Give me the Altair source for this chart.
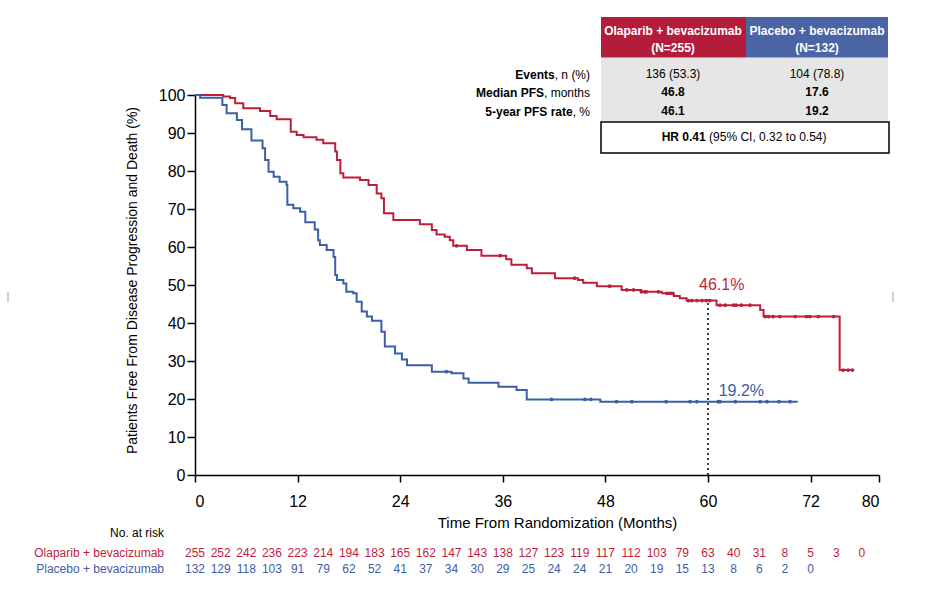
import altair as alt
import pandas as pd

FONT = "Liberation Sans"
RED = "#BF1E3B"
BLUE = "#3D5EA8"
HDR_RED = "#B41C3C"
HDR_BLUE = "#4B64A4"
GRAY = "#E6E6E6"

arms = ["Olaparib + bevacizumab", "Placebo + bevacizumab"]

# Kaplan-Meier step points (months, % free from progression/death)
ola_t = [0, 3.3, 4.1, 4.7, 5.65, 7.6, 8.8, 9.55, 11.2, 11.9, 12.7, 14.2, 15.0, 16.4, 16.6,
         17.0, 17.35, 19.3, 20.3, 21.25, 21.8, 22.1, 23.2, 26.3, 27.7, 28.25, 29.2, 29.8,
         30.2, 31.8, 33.5, 36.4, 37.0, 38.8, 39.4, 42.1, 44.8, 45.4, 47.0, 49.9, 52.2,
         54.6, 56.0, 56.7, 57.5, 61.0, 66.1, 66.5, 75.4, 76.9]
ola_s = [100, 99.6, 99.2, 97.8, 96.5, 95.8, 94.5, 93.6, 90.3, 89.5, 88.9, 88.2, 87.3, 85.1,
         82.9, 79.4, 78.3, 77.6, 76.3, 74.1, 72.8, 68.9, 67.1, 66.0, 64.5, 63.3, 62.7, 61.8,
         60.3, 59.2, 57.7, 56.8, 55.3, 54.4, 53.1, 51.8, 51.3, 50.6, 49.7, 48.7, 48.2,
         47.8, 47.1, 46.5, 45.9, 44.7, 43.4, 41.7, 27.6, 27.6]
pbo_t = [0, 0.6, 3.2, 3.7, 4.9, 5.5, 6.6, 7.9, 8.2, 8.6, 9.2, 9.9, 10.7, 10.8, 11.5, 12.3,
         12.9, 14.0, 14.4, 14.6, 15.4, 16.2, 16.4, 16.6, 17.35, 17.7, 18.5, 18.9, 19.5, 20.1,
         20.7, 21.8, 22.2, 23.4, 24.2, 24.8, 27.7, 30.0, 31.4, 32.0, 35.5, 37.6, 38.8, 47.4,
         70.5]
pbo_s = [100, 99.3, 97.4, 95.2, 93.4, 91.0, 88.0, 86.0, 82.9, 79.8, 78.5, 77.2, 76.3, 71.1,
         70.2, 69.3, 66.5, 64.6, 61.8, 60.5, 59.2, 57.4, 52.6, 51.3, 50.4, 48.2, 47.8, 45.6,
         43.0, 41.7, 40.6, 37.7, 33.8, 32.0, 30.4, 28.9, 27.2, 26.8, 25.4, 24.3, 23.2, 22.4,
         19.9, 19.3, 19.3]

# censoring times
ola_cens = [30.6, 35.7, 44.4, 48.5, 50.5, 51.3, 52.2, 52.6, 52.8, 54.2, 55.2, 55.5, 55.8,
            57.7, 58.1, 58.7, 59.3, 59.8, 60.2, 61.4, 62.0, 63.0, 63.3, 63.9, 64.9, 66.7,
            67.1, 67.6, 68.4, 70.2, 71.5, 71.9, 72.9, 74.7, 75.8, 76.4, 76.9]
pbo_cens = [29.4, 41.7, 45.6, 46.3, 49.3, 51.1, 55.1, 57.9, 58.7, 61.2, 61.4, 63.2, 66.1,
            66.9, 68.3, 69.6]

# numbers at risk (every 3 months)
ola_risk = [255, 252, 242, 236, 223, 214, 194, 183, 165, 162, 147, 143, 138, 127, 123, 119,
            117, 112, 103, 79, 63, 40, 31, 8, 5, 3, 0]
pbo_risk = [132, 129, 118, 103, 91, 79, 62, 52, 41, 37, 34, 30, 29, 25, 24, 24, 21, 20, 19,
            15, 13, 8, 6, 2, 0]

x_ticks = [0, 12, 24, 36, 48, 60, 72, 80]
y_ticks = [0, 10, 20, 30, 40, 50, 60, 70, 80, 90, 100]

landmark_month = 60
landmark_vals = [46.1, 19.2]
landmark_labels = ["46.1%", "19.2%"]
label_pos_t = [61.6, 63.9]
label_pos_s = [49.9, 22.2]

table_cols = ["Olaparib + bevacizumab", "Placebo + bevacizumab"]
table_n = ["(N=255)", "(N=132)"]
events = ["136 (53.3)", "104 (78.8)"]
median_pfs = ["46.8", "17.6"]
rate5 = ["46.1", "19.2"]

# ---------------- data frames ----------------
curve_df = pd.concat([
    pd.DataFrame({"t": ola_t, "s": ola_s, "arm": arms[0]}),
    pd.DataFrame({"t": pbo_t, "s": pbo_s, "arm": arms[1]}),
])


def step_val(ts, ss, t):
    v = ss[0]
    for ti, si in zip(ts, ss):
        if ti <= t:
            v = si
    return v


cens_df = pd.concat([
    pd.DataFrame({"t": ola_cens, "s": [step_val(ola_t, ola_s, c) for c in ola_cens], "arm": arms[0]}),
    pd.DataFrame({"t": pbo_cens, "s": [step_val(pbo_t, pbo_s, c) for c in pbo_cens], "arm": arms[1]}),
])

risk_ola_df = pd.DataFrame({"month": [3 * i for i in range(len(ola_risk))], "n": ola_risk})
risk_pbo_df = pd.DataFrame({"month": [3 * i for i in range(len(pbo_risk))], "n": pbo_risk})

xs = alt.Scale(domain=[0, 80], nice=False, zero=False)
ys = alt.Scale(domain=[0, 100], nice=False)
cs = alt.Scale(domain=arms, range=[RED, BLUE])

XAXIS = alt.Axis(
    values=x_ticks, title="Time From Randomization (Months)", labelFontSize=16,
    grid=False, labelOverlap=False,
    tickSize=7, tickWidth=1.5, domainWidth=1.5, labelPadding=11,
    titleFontSize=15, titleFontWeight="normal", titleX=362, titleY=47,
    titleBaseline="middle", titleAlign="center")
YAXIS = alt.Axis(
    values=y_ticks, title="Patients Free From Disease Progression and Death (%)",
    grid=False, labelOverlap=False,
    labelFontSize=16, tickSize=8, tickWidth=1.5, domainWidth=1.5, labelPadding=2,
    titleFontSize=14, titleFontWeight="normal", titleX=-63, titleY=185,
    titleAngle=-90, titleAlign="center", titleBaseline="middle")

OX, OY = 195, 95  # plot origin on canvas

lines = alt.Chart(curve_df).mark_line(interpolate="step-after", strokeWidth=2).encode(
    x=alt.X("t:Q", scale=xs, axis=XAXIS),
    y=alt.Y("s:Q", scale=ys, axis=YAXIS),
    color=alt.Color("arm:N", scale=cs, legend=None),
)

cens = alt.Chart(cens_df).mark_point(filled=True, size=14, opacity=1).encode(
    x=alt.X("t:Q", scale=xs, axis=XAXIS), y=alt.Y("s:Q", scale=ys, axis=YAXIS),
    color=alt.Color("arm:N", scale=cs, legend=None),
)

rule = alt.Chart(pd.DataFrame({"t": [landmark_month], "y0": [0], "y1": [max(landmark_vals)]})).mark_rule(
    strokeDash=[2, 3], strokeWidth=1.5, color="black").encode(
    x=alt.X("t:Q", scale=xs, axis=XAXIS), y=alt.Y("y0:Q", scale=ys, axis=YAXIS), y2="y1:Q")

pct = alt.Chart(pd.DataFrame({"t": label_pos_t, "s": label_pos_s, "lab": landmark_labels, "arm": arms})).mark_text(
    fontSize=16, font=FONT, align="center", baseline="middle").encode(
    x=alt.X("t:Q", scale=xs, axis=XAXIS), y=alt.Y("s:Q", scale=ys, axis=YAXIS), text="lab:N",
    color=alt.Color("arm:N", scale=cs, legend=None))

risk_red = alt.Chart(risk_ola_df).mark_text(fontSize=12, font=FONT, color=RED, baseline="middle").encode(
    x=alt.X("month:Q", scale=xs, axis=XAXIS), y=alt.value(552.5 - OY), text="n:Q")
risk_blue = alt.Chart(risk_pbo_df).mark_text(fontSize=12, font=FONT, color=BLUE, baseline="middle").encode(
    x=alt.X("month:Q", scale=xs, axis=XAXIS), y=alt.value(569 - OY), text="n:Q")

one = pd.DataFrame({"k": [0]})


def txt(s, px, py, size=12, bold=False, color="black", align="center"):
    return alt.Chart(one).mark_text(
        text=s, fontSize=size, fontWeight="bold" if bold else "normal", color=color,
        align=align, baseline="middle", font=FONT).encode(
        x=alt.value(px - OX), y=alt.value(py - OY))


def box(x0, x1, y0, y1, fill, stroke=None, sw=0):
    kw = {"fill": fill}
    if stroke:
        kw.update(stroke=stroke, strokeWidth=sw)
    return alt.Chart(one).mark_rect(**kw).encode(
        x=alt.value(x0 - OX), x2=alt.value(x1 - OX), y=alt.value(y0 - OY), y2=alt.value(y1 - OY))


def vbar(px, py0, py1):
    return alt.Chart(one).mark_rule(color="#A0A0A0", strokeWidth=1).encode(
        x=alt.value(px - OX), y=alt.value(py0 - OY), y2=alt.value(py1 - OY))


layers = [
    box(601, 888, 57.5, 121, GRAY),
    box(601, 746, 17, 57.5, HDR_RED),
    box(746, 888, 17, 57.5, HDR_BLUE),
    box(601, 889, 122, 153, "white", "black", 1.5),
    lines, cens, rule, pct, risk_red, risk_blue,
    vbar(8, 292, 302), vbar(893, 292, 302),
    txt(table_cols[0], 673, 31, bold=True, color="white"),
    txt(table_n[0], 673, 47.5, bold=True, color="white"),
    txt(table_cols[1], 817, 31, bold=True, color="white"),
    txt(table_n[1], 817, 47.5, bold=True, color="white"),
    txt(events[0], 673, 74), txt(events[1], 817, 74),
    txt(median_pfs[0], 673, 92, bold=True), txt(median_pfs[1], 817, 92, bold=True),
    txt(rate5[0], 673, 110.5, bold=True), txt(rate5[1], 817, 110.5, bold=True),
    txt("Events", 590 - 35.3, 74.5, bold=True, align="right"),
    txt(", n (%)", 590 - 35.3, 74.5, align="left"),
    txt("Median PFS", 590 - 46.0, 93, bold=True, align="right"),
    txt(", months", 590 - 46.0, 93, align="left"),
    txt("5-year PFS rate", 590 - 17.3, 111.5, bold=True, align="right"),
    txt(", %", 590 - 17.3, 111.5, align="left"),
    txt("HR 0.41", 705.7, 137, bold=True, align="right"),
    txt("(95% CI, 0.32 to 0.54)", 705.7 + 3.4, 137, align="left"),
    txt("No. at risk", 164, 533, align="right"),
    txt(arms[0], 164, 552.5, color=RED, align="right"),
    txt(arms[1], 164, 569, color=BLUE, align="right"),
]

chart = alt.layer(*layers).properties(
    width=684, height=380,
    background="white",
    autosize=alt.AutoSizeParams(type="none"),
    padding={"left": OX, "top": OY, "right": 928 - 879, "bottom": 594 - 475},
).configure_view(stroke=None).configure_axis(
    grid=False, domainColor="black", tickColor="black", labelColor="black",
    titleColor="black", labelFont=FONT, titleFont=FONT,
)

chart.save("out.html", embed_options={"renderer": "svg", "actions": False})
